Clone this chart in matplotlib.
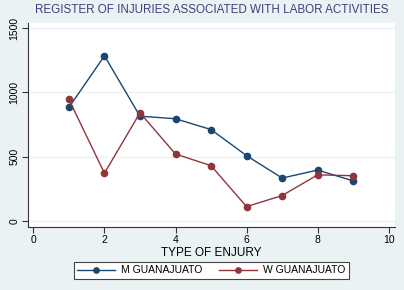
import matplotlib
matplotlib.use("Agg")
import matplotlib.pyplot as plt

plt.rcParams['font.family'] = ['Liberation Sans', 'DejaVu Sans']

injury_type = [1, 2, 3, 4, 5, 6, 7, 8, 9]
m_guanajuato = [883, 1284, 815, 795, 711, 508, 334, 396, 312]
w_guanajuato = [945, 372, 841, 521, 430, 112, 198, 359, 352]

bg = '#eaf2f3'
navy = '#1a476f'
maroon = '#90353b'

fig = plt.figure(figsize=(4.04, 2.9), dpi=100, facecolor=bg)
ax = fig.add_axes([0.069, 0.217, 0.909, 0.704])
ax.set_facecolor('white')

ax.plot(injury_type, m_guanajuato, color=navy, marker='o', markersize=4.5,
        linewidth=1, label='M GUANAJUATO')
ax.plot(injury_type, w_guanajuato, color=maroon, marker='o', markersize=4.5,
        linewidth=1, label='W GUANAJUATO')

ax.set_xlim(-0.155, 10.18)
ax.set_ylim(-47, 1540)
ax.set_xticks([0, 2, 4, 6, 8, 10])
ax.set_yticks([0, 500, 1000, 1500])
ax.yaxis.grid(True, color=bg, linewidth=1)
ax.set_axisbelow(True)

for s in ['top', 'right']:
    ax.spines[s].set_visible(False)
for s in ['left', 'bottom']:
    ax.spines[s].set_color('#333333')
    ax.spines[s].set_linewidth(0.8)

ax.tick_params(axis='both', labelsize=7.5, color='#333333', length=4, width=0.8, pad=2)
for lbl in ax.get_yticklabels():
    lbl.set_rotation(90)
    lbl.set_va('center')

ax.set_xlabel('TYPE OF ENJURY', fontsize=8.5, labelpad=1)
ax.set_title('REGISTER OF INJURIES ASSOCIATED WITH LABOR ACTIVITIES',
             fontsize=8.4, color='#40407e', pad=7)

leg = fig.legend(loc='lower center', bbox_to_anchor=(0.523, 0.02), ncol=2,
                 fontsize=7.5, frameon=True, fancybox=False, edgecolor='#444444',
                 framealpha=1, handlelength=3.6, columnspacing=1.6,
                 borderpad=0.35, handletextpad=0.6, markerscale=0.85)
leg.get_frame().set_linewidth(0.8)

fig.savefig('out.png', dpi=100, facecolor=bg)
